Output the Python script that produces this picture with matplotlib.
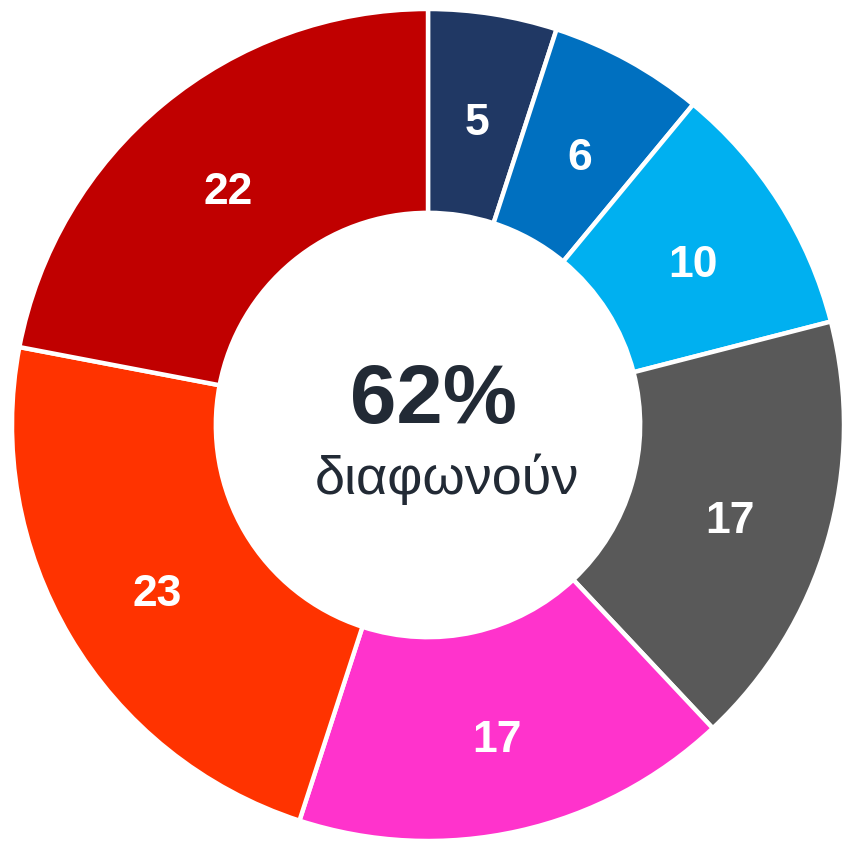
import matplotlib
matplotlib.use("Agg")
import matplotlib.pyplot as plt
import numpy as np

values = [5, 6, 10, 17, 17, 23, 22]
labels = ["5", "6", "10", "17", "17", "23", "22"]
colors = ["#203864", "#0070C0", "#00B0F0", "#595959", "#FF33CC", "#FF3300", "#C00000"]
center_value = "62%"
center_label = "διαφωνούν"

W, H = 845, 850
cx, cy, R = 428, 425, 416
fig = plt.figure(figsize=(W / 100, H / 100), dpi=100)
ax = fig.add_axes([0, 0, 1, 1])

wedges, _ = ax.pie(values, colors=colors, startangle=90, counterclock=False,
                   radius=1.0, wedgeprops=dict(width=0.49, edgecolor="white", linewidth=3.2))
total = sum(values)
ang = 90.0
for v, lab in zip(values, labels):
    mid = ang - v / total * 360 / 2
    ang -= v / total * 360
    r = 0.755
    ax.text(r * np.cos(np.radians(mid)), r * np.sin(np.radians(mid)) - 0.022, lab,
            ha="center", va="center", color="white", fontsize=32, fontweight="bold",
            family="Liberation Sans")

ax.text(0.014, 0.058, center_value, ha="center", va="center", color="#222A35",
        fontsize=60, fontweight="bold", family="Liberation Sans")
ax.text(0.045, -0.13, center_label, ha="center", va="center", color="#222A35",
        fontsize=39, family="Liberation Sans")
ax.set_aspect("equal")
ax.set_xlim(-cx / R, (W - cx) / R)
ax.set_ylim(-(H - cy) / R, cy / R)
ax.axis("off")
fig.savefig("out.png", dpi=100)
